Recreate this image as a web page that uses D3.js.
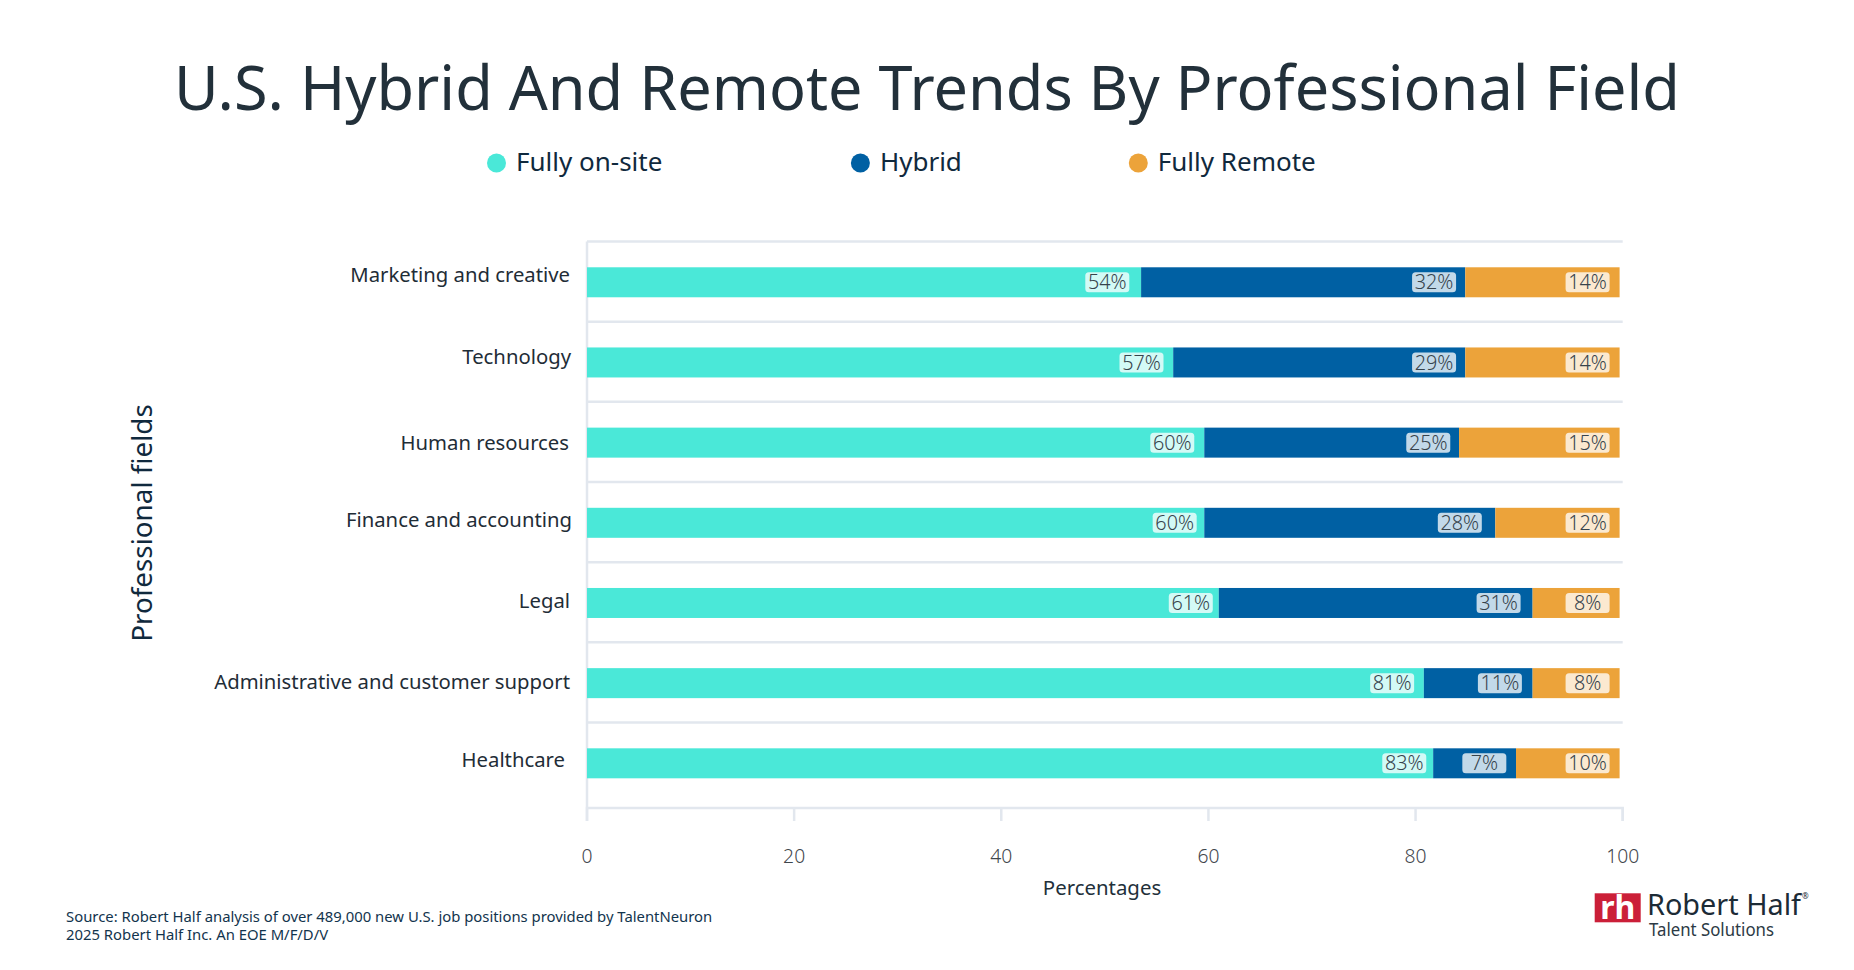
<!DOCTYPE html>
<html>
<head>
<meta charset="utf-8">
<script src="https://cdn.jsdelivr.net/npm/d3@7"></script>
<style>
  html, body { margin: 0; padding: 0; background: #fff; }
  svg { display: block; font-family: "Noto Sans", sans-serif; }
  .grid line, .axis--x line, .axis--x path { stroke: #e2e7ee; stroke-width: 2.5; }
  .axis text { font-family: "Noto Sans", sans-serif; }
  .axis--y text { font-size: 20.3px; fill: #1f2d37; }
  .axis--x text { font-size: 19.3px; font-weight: 300; fill: #3f464c; }
  .value-label { font-size: 19.8px; font-weight: 300; fill: #36434c; text-anchor: middle; }
</style>
</head>
<body>
<svg id="chart" width="1854" height="970"></svg>
<script>
//chart values
var fields = ['Marketing and creative', 'Technology', 'Human resources', 'Finance and accounting', 'Legal', 'Administrative and customer support', 'Healthcare '];
var fullyOnsite = [53.5, 56.6, 59.6, 59.6, 61.0, 80.8, 81.7];
var hybrid = [31.3, 28.2, 24.6, 28.1, 30.3, 10.5, 8.0];
var fullyRemote = [14.9, 14.9, 15.5, 12.0, 8.4, 8.4, 10.0];

//percentages as printed on the bars
var onsiteLabels = ['54%', '57%', '60%', '60%', '61%', '81%', '83%'];
var hybridLabels = ['32%', '29%', '25%', '28%', '31%', '11%', '7%'];
var remoteLabels = ['14%', '14%', '15%', '12%', '8%', '8%', '10%'];

var seriesNames = ['Fully on-site', 'Hybrid', 'Fully Remote'];
var xTicks = [0, 20, 40, 60, 80, 100];

var seriesColors = ['#4ae8d8', '#0060a3', '#eca33a'];
//the field labels sit a little off-centre in the original
var labelNudge = [[0, -7], [1, -5], [-1, 1], [2, -2], [0, -1], [0, -0.5], [-5, -2.5]];
//distance from the end of a segment to its value box, differs per box
var onsiteGap = [11.8, 9.7, 10, 7.6, 6, 9.7, 6.9];
var hybridGap = [9.2, 9.2, 8.8, 13.5, 12, 10.7, 9.7];
var remoteGap = 10;

var svg = d3.select('#chart');

//scales
var x = d3.scaleLinear().domain([0, 100]).range([587, 1622.7]);
var y = d3.scaleBand().domain(fields).range([241.5, 802.7]);
var barHeight = 30;
var barOffset = 0.7;
var axisY = 808;
var boxWidth = 44;

//horizontal grid lines
svg.append('g')
    .attr('class', 'grid')
    .selectAll('line')
    .data(fields)
    .enter().append('line')
    .attr('x1', x(0))
    .attr('x2', x(100))
    .attr('y1', function(d) { return y(d); })
    .attr('y2', function(d) { return y(d); });

//left edge of the plot
svg.select('.grid').append('line')
    .attr('x1', x(0)).attr('x2', x(0))
    .attr('y1', y.range()[0]).attr('y2', axisY);

//x-axis
svg.append('g')
    .attr('class', 'axis axis--x')
    .attr('transform', 'translate(0,' + axisY + ')')
    .call(d3.axisBottom(x).tickValues(xTicks).tickSize(13).tickPadding(28).tickSizeOuter(13).offset(0));

//y-axis, only the labels
var yAxis = svg.append('g')
    .attr('class', 'axis axis--y')
    .attr('transform', 'translate(570,' + barOffset + ')')
    .call(d3.axisLeft(y).tickSize(0).tickPadding(0));
yAxis.select('.domain').remove();
yAxis.selectAll('text')
    .attr('x', function(d, i) { return labelNudge[i][0]; })
    .attr('y', function(d, i) { return labelNudge[i][1]; });

//stacks the three series per field
var rows = fields.map(function(field, i) {
  return {
    field: field,
    segments: [
      {start: 0, end: fullyOnsite[i], label: onsiteLabels[i], color: seriesColors[0], gap: onsiteGap[i]},
      {start: fullyOnsite[i], end: fullyOnsite[i] + hybrid[i], label: hybridLabels[i], color: seriesColors[1], gap: hybridGap[i]},
      {start: fullyOnsite[i] + hybrid[i], end: fullyOnsite[i] + hybrid[i] + fullyRemote[i], label: remoteLabels[i], color: seriesColors[2], gap: remoteGap}
    ]
  };
});

var row = svg.selectAll('.row')
    .data(rows)
    .enter().append('g')
    .attr('class', 'row')
    .attr('transform', function(d) { return 'translate(0,' + (y(d.field) + y.bandwidth() / 2 + barOffset) + ')'; });

var segment = row.selectAll('.segment')
    .data(function(d) { return d.segments; })
    .enter().append('g')
    .attr('class', 'segment');

segment.append('rect')
    .attr('x', function(d) { return x(d.start); })
    .attr('width', function(d) { return x(d.end) - x(d.start); })
    .attr('y', -barHeight / 2)
    .attr('height', barHeight)
    .attr('fill', function(d) { return d.color; });

//pale box behind each printed value
segment.append('rect')
    .attr('x', function(d) { return x(d.end) - d.gap - boxWidth; })
    .attr('y', -10)
    .attr('width', boxWidth)
    .attr('height', 20)
    .attr('rx', 3.5)
    .attr('fill', '#fff')
    .attr('fill-opacity', 0.76);

segment.append('text')
    .attr('class', 'value-label')
    .attr('x', function(d) { return x(d.end) - d.gap - boxWidth / 2; })
    .attr('dy', '0.36em')
    .text(function(d) { return d.label; });

//title
svg.append('text')
    .attr('x', 927)
    .attr('y', 110)
    .attr('text-anchor', 'middle')
    .attr('font-size', 61.2)
    .attr('fill', '#22303a')
    .text('U.S. Hybrid And Remote Trends By Professional Field');

//legend
var legendX = d3.scaleOrdinal().domain(seriesNames).range([496.5, 860.4, 1138.3]);
var legend = svg.selectAll('.legend')
    .data(seriesNames)
    .enter().append('g')
    .attr('class', 'legend')
    .attr('transform', function(d) { return 'translate(' + legendX(d) + ',163)'; });

legend.append('circle')
    .attr('r', 9.5)
    .attr('fill', function(d, i) { return seriesColors[i]; });

legend.append('text')
    .attr('x', 19.5)
    .attr('y', -1)
    .attr('dy', '0.36em')
    .attr('font-size', 26)
    .attr('fill', '#10293d')
    .text(function(d) { return d; });

//axis titles
svg.append('text')
    .attr('transform', 'translate(142,523) rotate(-90)')
    .attr('text-anchor', 'middle')
    .attr('dy', '0.36em')
    .attr('font-size', 27.8)
    .attr('fill', '#10293d')
    .text('Professional fields');

svg.append('text')
    .attr('x', 1102)
    .attr('y', 888)
    .attr('text-anchor', 'middle')
    .attr('dy', '0.36em')
    .attr('font-size', 20.4)
    .attr('fill', '#22303a')
    .text('Percentages');

//source note
svg.append('text')
    .attr('x', 66)
    .attr('y', 922)
    .attr('font-size', 14.85)
    .attr('fill', '#12344d')
    .text('Source: Robert Half analysis of over 489,000 new U.S. job positions provided by TalentNeuron');

svg.append('text')
    .attr('x', 66)
    .attr('y', 940)
    .attr('font-size', 14.85)
    .attr('fill', '#12344d')
    .text('2025 Robert Half Inc. An EOE M/F/D/V');

//logo
var logo = svg.append('g').attr('class', 'logo');

logo.append('rect')
    .attr('x', 1594.7)
    .attr('y', 893.3)
    .attr('width', 46)
    .attr('height', 29)
    .attr('fill', '#cb1f38');

logo.append('text')
    .attr('x', 1617.7)
    .attr('y', 919)
    .attr('text-anchor', 'middle')
    .attr('font-size', 32)
    .attr('font-weight', 700)
    .attr('fill', '#fff')
    .text('rh');

logo.append('text')
    .attr('x', 1647)
    .attr('y', 915)
    .attr('font-size', 29)
    .attr('textLength', 154)
    .attr('lengthAdjust', 'spacingAndGlyphs')
    .attr('fill', '#1c2b36')
    .text('Robert Half');

logo.append('text')
    .attr('x', 1802)
    .attr('y', 899)
    .attr('font-size', 8)
    .attr('fill', '#1c2b36')
    .text('®');

logo.append('text')
    .attr('x', 1649)
    .attr('y', 935.5)
    .attr('font-size', 18)
    .attr('textLength', 125)
    .attr('lengthAdjust', 'spacingAndGlyphs')
    .attr('fill', '#2c3a45')
    .text('Talent Solutions');
</script>
</body>
</html>
